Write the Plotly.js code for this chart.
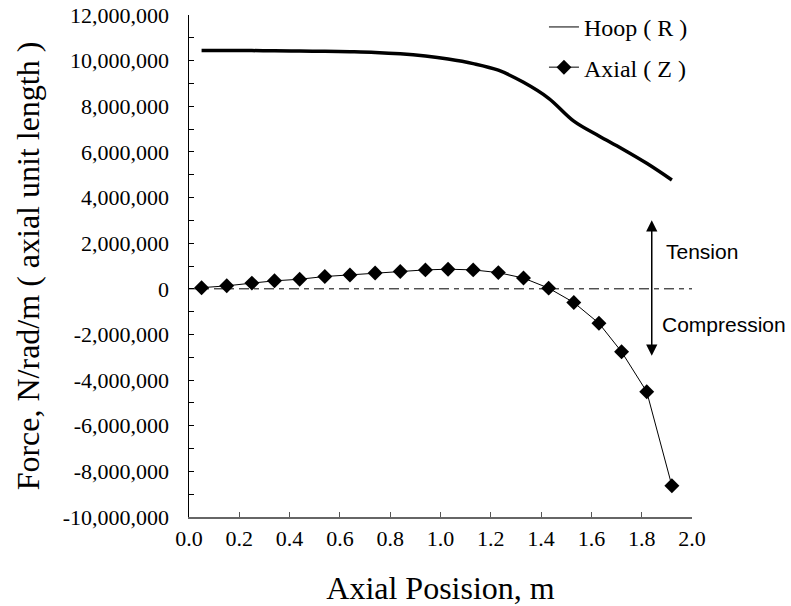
<!DOCTYPE html>
<html><head><meta charset="utf-8">
<script src="https://cdn.plot.ly/plotly-3.0.1.min.js"></script>
<style>html,body{margin:0;padding:0;background:#fff}#chart{width:791px;height:606px}</style>
</head><body><div id="chart"></div>
<script>
const positions = [0.05,0.15,0.25,0.34,0.44,0.54,0.64,0.74,0.84,0.94,1.03,1.13,1.23,1.33,1.43,1.53,1.63,1.72,1.82,1.92];
const hoopForce = [10440000,10440000,10440000,10430000,10420000,10410000,10390000,10360000,10300000,10200000,10070000,9870000,9580000,9050000,8350000,7350000,6700000,6150000,5500000,4770000];
const axialForce = [50000,130000,250000,350000,420000,540000,610000,690000,760000,830000,860000,830000,710000,470000,30000,-600000,-1510000,-2760000,-4510000,-8630000];
const yTickVals = [-10000000,-8000000,-6000000,-4000000,-2000000,0,2000000,4000000,6000000,8000000,10000000,12000000];
const yTickText = ['-10,000,000','-8,000,000','-6,000,000','-4,000,000','-2,000,000','0','2,000,000','4,000,000','6,000,000','8,000,000','10,000,000','12,000,000'];
const xTickVals = [0,0.2,0.4,0.6,0.8,1.0,1.2,1.4,1.6,1.8,2.0];
const xTickText = ['0.0','0.2','0.4','0.6','0.8','1.0','1.2','1.4','1.6','1.8','2.0'];
const seriesNames = ['Hoop ( R )','Axial ( Z )'];
const arrowX = 1.84, arrowTop = 3000000, arrowBottom = -3000000;

const serif = '"Liberation Serif", "Times New Roman", serif';
const sans = '"Liberation Sans", Arial, sans-serif';

const traces = [
  {x: positions, y: hoopForce, name: seriesNames[0], type: 'scatter', mode: 'lines',
   line: {color: '#000', width: 3.5, shape: 'spline', smoothing: 1}, showlegend: false, legendgroup: 'h'},
  {x: [null], y: [null], name: seriesNames[0], type: 'scatter', mode: 'lines',
   line: {color: '#000', width: 1}, legendgroup: 'h'},
  {x: positions, y: axialForce, name: seriesNames[1], type: 'scatter', mode: 'lines+markers',
   line: {color: '#000', width: 1}, marker: {symbol: 'diamond', size: 11.5, color: '#000'}, legendgroup: 'a'}
];

const layout = {
  width: 791, height: 606,
  margin: {l: 189, r: 99, t: 15, b: 89, autoexpand: false},
  paper_bgcolor: '#fff', plot_bgcolor: '#fff',
  font: {family: serif, color: '#000', size: 22},
  showlegend: true,
  legend: {xref: 'container', yref: 'container', x: 0.6877, y: 0.992, xanchor: 'left', yanchor: 'top',
           bgcolor: 'rgba(0,0,0,0)', font: {family: serif, size: 24, color: '#000'}, tracegroupgap: 6},
  xaxis: {range: [0, 2], tickmode: 'array', tickvals: xTickVals, ticktext: xTickText, automargin: false,
          ticks: 'inside', ticklen: 5, tickcolor: '#555', showgrid: false, zeroline: false,
          showline: true, linecolor: '#666', linewidth: 1.5,
          tickfont: {family: serif, size: 22, color: '#000'}, ticklabelstandoff: 1,
          title: {text: 'Axial Posision, m', font: {family: serif, size: 32, color: '#000'}, standoff: 28}},
  yaxis: {range: [-10000000, 12000000], tickmode: 'array', tickvals: yTickVals, ticktext: yTickText, automargin: false,
          ticks: 'inside', ticklen: 5, tickcolor: '#000', showgrid: false, zeroline: false,
          showline: true, linecolor: '#000', linewidth: 1.5,
          minor: {tickmode: 'linear', tick0: 0, dtick: 1000000, ticks: 'inside', ticklen: 5, tickcolor: '#000', showgrid: false},
          tickfont: {family: serif, size: 22, color: '#000'}, ticklabelstandoff: 14,
          title: {text: 'Force, N/rad/m ( axial unit length )', font: {family: serif, size: 32, color: '#000'}, standoff: 13}},
  shapes: [
    {type: 'line', xref: 'x', yref: 'y', x0: 0, x1: 2.01, y0: 0, y1: 0,
     line: {color: '#000', width: 1, dash: '10px,5px,5px,5px'}, layer: 'below'}
  ],
  annotations: [
    {x: arrowX, y: arrowTop, ax: arrowX, ay: arrowBottom, axref: 'x', ayref: 'y', xref: 'x', yref: 'y',
     text: '', showarrow: true, arrowside: 'end+start', arrowhead: 2, startarrowhead: 2,
     arrowsize: 1.5, startarrowsize: 1.5, arrowwidth: 1.5, arrowcolor: '#000', standoff: 0, startstandoff: 0},
    {x: 1.89, y: 1620000, xref: 'x', yref: 'y', xanchor: 'left', yanchor: 'middle', showarrow: false,
     text: 'Tension', font: {family: sans, size: 21, color: '#000'}},
    {x: 1.872, y: -1580000, xref: 'x', yref: 'y', xanchor: 'left', yanchor: 'middle', showarrow: false,
     text: 'Compression', font: {family: sans, size: 21, color: '#000'}}
  ]
};

Plotly.newPlot('chart', traces, layout, {displayModeBar: false, staticPlot: true});
</script>
</body></html>
